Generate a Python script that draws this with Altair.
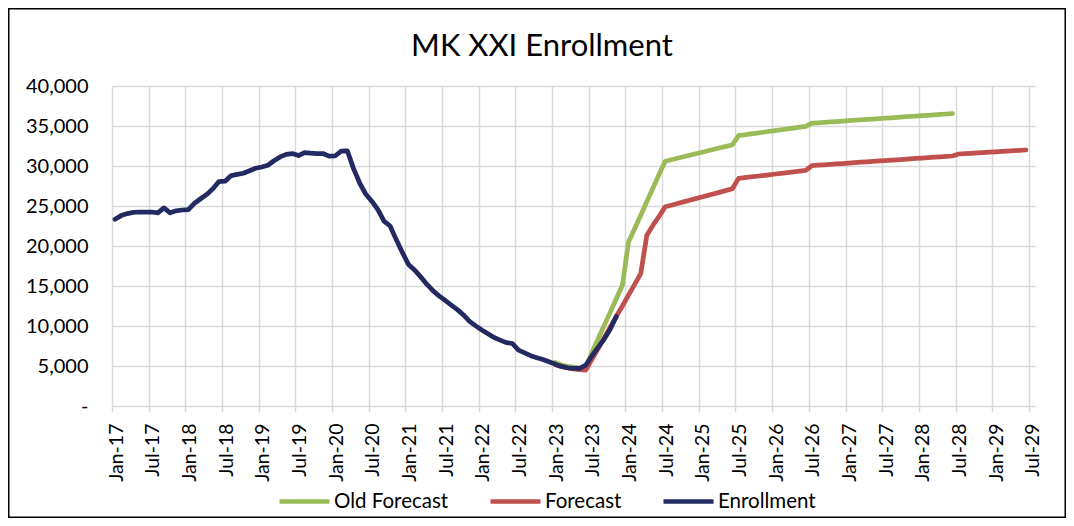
import json
import altair as alt
import pandas as pd

# ---------------- data ----------------
chart_title = "MK XXI Enrollment"
tick_labels = ["Jan-17", "Jul-17", "Jan-18", "Jul-18", "Jan-19", "Jul-19", "Jan-20", "Jul-20",
               "Jan-21", "Jul-21", "Jan-22", "Jul-22", "Jan-23", "Jul-23", "Jan-24", "Jul-24",
               "Jan-25", "Jul-25", "Jan-26", "Jul-26", "Jan-27", "Jul-27", "Jan-28", "Jul-28",
               "Jan-29", "Jul-29"]
y_ticks = [0, 5000, 10000, 15000, 20000, 25000, 30000, 35000, 40000]
y_labels = ["-", "5,000", "10,000", "15,000", "20,000", "25,000", "30,000", "35,000", "40,000"]

series_names = ["Old Forecast", "Forecast", "Enrollment"]
series_colors = ["#9BBB59", "#C0504D", "#232A62"]

# month index 0 = Jan-17
enrollment_start = 0
enrollment = [
    23350, 23800, 24050, 24200, 24250, 24250, 24250, 24150, 24770, 24150, 24400, 24500,
    24550, 25350, 25900, 26450, 27150, 28060, 28100, 28800, 28960, 29090, 29400, 29720,
    29880, 30100, 30650, 31140, 31450, 31550, 31300, 31680, 31600, 31560, 31560, 31240,
    31250, 31850, 31900, 29700, 27900, 26500, 25600, 24550, 23100, 22500, 20800, 19200,
    17700, 17000, 16140, 15230, 14420, 13770, 13190, 12620, 12050, 11380, 10590, 10020,
    9500, 9030, 8560, 8240, 7920, 7810, 6975, 6630, 6290, 6040, 5815, 5540,
    5230, 4950, 4780, 4690, 4690, 5100, 6250, 7290, 8330, 9590, 11200,
]

forecast_start = 72
forecast = [
    5150, 4950, 4750, 4650, 4550, 4480, 5800, 7150, 8500, 9850, 11200, 12500,
    13850, 15200, 16550, 21350, 22600, 23700, 24900, 25100, 25310, 25510, 25720, 25920,
    26130, 26330, 26540, 26740, 26950, 27150, 28450, 28540, 28630, 28720, 28810, 28900,
    29000, 29090, 29180, 29270, 29360, 29450, 30050, 30100, 30150, 30210, 30260, 30310,
    30360, 30420, 30470, 30520, 30570, 30630, 30680, 30730, 30780, 30830, 30890, 30940,
    30990, 31040, 31100, 31150, 31200, 31250, 31500, 31550, 31590, 31640, 31680, 31730,
    31770, 31820, 31860, 31910, 31950, 32000,
]

old_forecast_start = 72
old_forecast = [
    5450, 5150, 4950, 4850, 4780, 4850, 6650, 8350, 10050, 11700, 13400, 15100,
    20500, 22150, 23850, 25550, 27250, 28950, 30600, 30790, 30970, 31160, 31350, 31530,
    31720, 31900, 32090, 32280, 32460, 32650, 33800, 33900, 34010, 34110, 34220, 34320,
    34430, 34530, 34640, 34740, 34850, 34950, 35350, 35400, 35450, 35510, 35560, 35610,
    35660, 35720, 35770, 35820, 35870, 35930, 35980, 36030, 36080, 36130, 36190, 36240,
    36290, 36340, 36400, 36450, 36500, 36550,
]

# ---------------- table ----------------
rows = []
for name, start, vals in [("Old Forecast", old_forecast_start, old_forecast),
                          ("Forecast", forecast_start, forecast),
                          ("Enrollment", enrollment_start, enrollment)]:
    for k, v in enumerate(vals):
        rows.append({"series": name, "m": start + k, "value": v})
df = pd.DataFrame(rows)

# ---------------- layout ----------------
W, H = 923, 320
padL, padT, padR, padB = 104, 78, 31, 112
FONT = "Lato"

x_label_expr = json.dumps(tick_labels, ensure_ascii=False) + "[round(datum.value / 6)]"
y_disp = [lbl + "\u00a0\u00a0\u00a0\u00a0" if lbl == "-" else lbl for lbl in y_labels]
y_label_expr = json.dumps(y_disp, ensure_ascii=False) + "[round(datum.value / 5000)]"

x_enc = alt.X(
    "pos:Q",
    scale=alt.Scale(domain=[0, 151], nice=False, zero=False),
    axis=alt.Axis(
        values=list(range(0, 151, 6)),
        labelExpr=x_label_expr,
        labelAngle=-90,
        labelAlign="right",
        labelBaseline="middle",
        labelOffset=4,
        labelFontSize=19.5,
        labelFont=FONT,
        labelColor="#000000",
        labelPadding=11,
        labelOverlap=False,
        labelFlush=False,
        domain=False,
        ticks=True,
        tickSize=6,
        tickColor="#D9D9D9",
        tickWidth=1.5,
        grid=True,
        gridColor="#D9D9D9",
        gridWidth=1.5,
        title=None,
    ),
)
y_enc = alt.Y(
    "value:Q",
    scale=alt.Scale(domain=[0, 40000], nice=False),
    axis=alt.Axis(
        values=y_ticks,
        labelExpr=y_label_expr,
        labelFontSize=20,
        labelFont=FONT,
        labelColor="#000000",
        labelPadding=24,
        labelBaseline="middle",
        domain=False,
        ticks=False,
        grid=True,
        gridColor="#D9D9D9",
        gridWidth=1.5,
        title=None,
    ),
)
color_enc = alt.Color(
    "series:N",
    scale=alt.Scale(domain=series_names, range=series_colors),
    legend=alt.Legend(
        title=None,
        orient="none",
        direction="horizontal",
        legendX=165,
        legendY=388,
        symbolType="stroke",
        symbolSize=2500,
        symbolStrokeWidth=4.5,
        labelFontSize=20.5,
        labelFont=FONT,
        labelColor="#000000",
        labelOffset=2,
        columnPadding=32,
        padding=0,
    ),
)

base = alt.Chart(df).transform_calculate(pos="datum.m + 0.5")
line_layers = [
    base.transform_filter(alt.datum.series == name)
    .mark_line(strokeWidth=4.75, strokeCap="round", strokeJoin="round")
    .encode(x=x_enc, y=y_enc, color=color_enc)
    for name in series_names
]

border = alt.Chart(pd.DataFrame({"a": [0]})).mark_rect(
    fillOpacity=0, stroke="#000000", strokeWidth=1.5
).encode(
    x=alt.value(-padL + 0.75),
    x2=alt.value(W + padR - 0.75),
    y=alt.value(-padT + 0.75),
    y2=alt.value(H + padB - 0.75),
)

title_text = alt.Chart(pd.DataFrame({"t": [chart_title]})).mark_text(
    font=FONT, fontSize=31, color="#000000", align="center", baseline="alphabetic"
).encode(
    text="t:N",
    x=alt.value(430),
    y=alt.value(-30),
)

chart = alt.layer(*line_layers, border, title_text).properties(
    width=W,
    height=H,
    autosize=alt.AutoSizeParams(type="none"),
    padding={"left": padL, "top": padT, "right": padR, "bottom": padB},
).configure(font=FONT, background="#ffffff").configure_view(stroke="transparent")

chart.save("out.html", embed_options={"renderer": "svg", "actions": False})
